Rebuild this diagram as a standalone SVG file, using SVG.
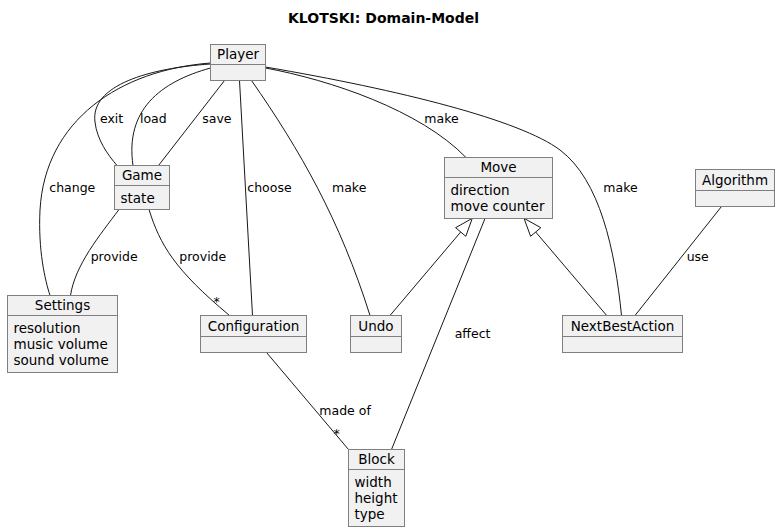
<svg xmlns="http://www.w3.org/2000/svg" width="779" height="532" viewBox="0 0 779 532">
<style>
.box{fill:#F1F1F1;stroke:#7F7F7F;stroke-width:1}
.sep{stroke:#7F7F7F;stroke-width:1}
.nm{font-family:"DejaVu Sans",sans-serif;font-size:13.5px;text-anchor:middle;fill:#000}
.at{font-family:"DejaVu Sans",sans-serif;font-size:13.5px;fill:#000}
.lb{font-family:"DejaVu Sans",sans-serif;font-size:12.5px;fill:#000}
.ln{fill:none;stroke:#181818;stroke-width:1}
.tri{fill:#fff;stroke:#181818;stroke-width:1}
.ttl{font-family:"DejaVu Sans",sans-serif;font-size:14px;font-weight:bold;text-anchor:middle;fill:#000}
</style>
<rect width="779" height="532" fill="#fff"/>
<text class="ttl" x="383.5" y="23">KLOTSKI: Domain-Model</text>
<g id="connectors">
<path class="ln" d="M210.5,64 C150,68 90,85 95,122 C97,140 108,155 117,165.5"/>
<path class="ln" d="M210.5,68 C160,82 125,110 133,165.5"/>
<path class="ln" d="M210.5,63 C120,70 45,120 40,210 C38,250 45,280 50,295.5"/>
<path class="ln" d="M224.5,80.5 L158.5,165.5"/>
<path class="ln" d="M239.5,80.5 L252.5,315.5"/>
<path class="ln" d="M251.5,80.5 C300,150 340,220 370,315.5"/>
<path class="ln" d="M265.5,68 C330,80 420,110 466,157.5"/>
<path class="ln" d="M265.5,67 C400,90 520,120 560,150 C600,180 615,250 621.5,315.5"/>
<path class="ln" d="M119,209.5 C100,235 75,265 70.5,295.5"/>
<path class="ln" d="M149,209.5 C160,245 175,270 229.5,315.5"/>
<path class="ln" d="M390,315.5 L460.7,232"/>
<polygon class="tri" points="472.3,218.3 465.8,236.3 455.6,227.7"/>
<path class="ln" d="M606.7,315.5 L535.7,232"/>
<polygon class="tri" points="524,218.3 540.8,227.7 530.6,236.3"/>
<path class="ln" d="M485,218.5 L391.5,449.5"/>
<path class="ln" d="M721.5,206.5 L635,315.5"/>
<path class="ln" d="M266.5,352.5 L348.5,449.5"/>
<text class="lb" x="100" y="123">exit</text>
<text class="lb" x="140" y="123">load</text>
<text class="lb" x="202.3" y="123">save</text>
<text class="lb" x="49.3" y="192.3">change</text>
<text class="lb" x="247.3" y="192.3">choose</text>
<text class="lb" x="332" y="192.3">make</text>
<text class="lb" x="424.3" y="122.7">make</text>
<text class="lb" x="603.3" y="192.3">make</text>
<text class="lb" x="90.7" y="260.7">provide</text>
<text class="lb" x="179.3" y="260.7">provide</text>
<text class="lb" x="686.7" y="260.7">use</text>
<text class="lb" x="454.7" y="337.7">affect</text>
<text class="lb" x="319.3" y="415">made of</text>
<text class="lb" x="213.5" y="306">*</text>
<text class="lb" x="333.5" y="438">*</text>
</g>
<g id="Player">
<rect class="box" x="210.5" y="44.5" width="55" height="36"/>
<line class="sep" x1="210.5" y1="64.5" x2="265.5" y2="64.5"/>
<text class="nm" x="238" y="59">Player</text>
</g>
<g id="Game">
<rect class="box" x="114.5" y="165.5" width="55" height="44"/>
<line class="sep" x1="114.5" y1="185.5" x2="169.5" y2="185.5"/>
<text class="nm" x="142" y="180">Game</text>
<text class="at" x="120.5" y="202.5">state</text>
</g>
<g id="Move">
<rect class="box" x="444.5" y="157.5" width="108" height="61"/>
<line class="sep" x1="444.5" y1="177.5" x2="552.5" y2="177.5"/>
<text class="nm" x="498.5" y="172">Move</text>
<text class="at" x="450.5" y="195">direction</text>
<text class="at" x="450.5" y="211">move counter</text>
</g>
<g id="Algorithm">
<rect class="box" x="695.5" y="169.5" width="79" height="37"/>
<line class="sep" x1="695.5" y1="190.5" x2="774.5" y2="190.5"/>
<text class="nm" x="735" y="184.5">Algorithm</text>
</g>
<g id="Settings">
<rect class="box" x="7.5" y="295.5" width="110" height="77"/>
<line class="sep" x1="7.5" y1="315.5" x2="117.5" y2="315.5"/>
<text class="nm" x="62.5" y="310">Settings</text>
<text class="at" x="13.5" y="333">resolution</text>
<text class="at" x="13.5" y="349">music volume</text>
<text class="at" x="13.5" y="365">sound volume</text>
</g>
<g id="Configuration">
<rect class="box" x="200.5" y="315.5" width="106" height="37"/>
<line class="sep" x1="200.5" y1="336.5" x2="306.5" y2="336.5"/>
<text class="nm" x="253.5" y="330.5">Configuration</text>
</g>
<g id="Undo">
<rect class="box" x="350.5" y="315.5" width="51" height="37"/>
<line class="sep" x1="350.5" y1="336.5" x2="401.5" y2="336.5"/>
<text class="nm" x="376" y="330.5">Undo</text>
</g>
<g id="NextBestAction">
<rect class="box" x="562.5" y="315.5" width="120" height="37"/>
<line class="sep" x1="562.5" y1="336.5" x2="682.5" y2="336.5"/>
<text class="nm" x="622.5" y="330.5">NextBestAction</text>
</g>
<g id="Block">
<rect class="box" x="348.5" y="449.5" width="56" height="77"/>
<line class="sep" x1="348.5" y1="469.5" x2="404.5" y2="469.5"/>
<text class="nm" x="376.5" y="464">Block</text>
<text class="at" x="354.5" y="486.5">width</text>
<text class="at" x="354.5" y="502.5">height</text>
<text class="at" x="354.5" y="518.5">type</text>
</g>
</svg>
